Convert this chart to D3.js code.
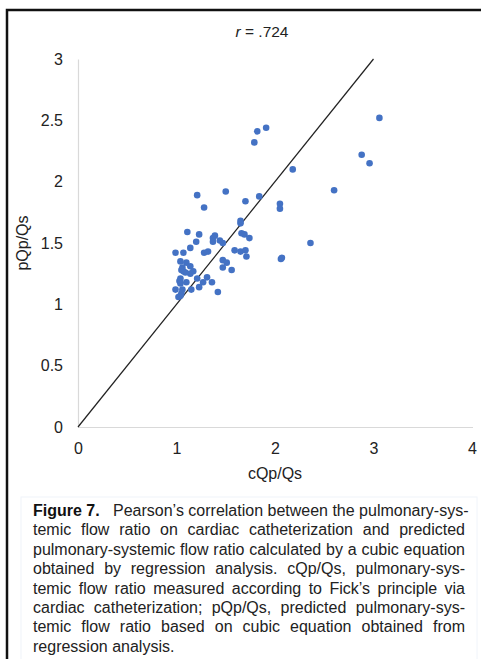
<!DOCTYPE html>
<html>
<head>
<meta charset="utf-8">
<script src="https://cdn.jsdelivr.net/npm/d3@7"></script>
<style>
  html, body { margin: 0; padding: 0; background: #fff; }
  body { width: 481px; height: 659px; position: relative; overflow: hidden; }
  svg { position: absolute; left: 0; top: 0; }
  .caption {
    position: absolute; left: 33px; top: 501px; width: 432px;
    font-family: "Liberation Sans", Arial, sans-serif; font-size: 16px; line-height: 19.4px;
    color: #222;
  }
  .caption div { text-align: justify; text-align-last: justify; white-space: nowrap; }
  .caption div.last { text-align-last: left; }
  .caption b { font-weight: bold; color: #111; }
</style>
</head>
<body>
<svg id="chart" width="481" height="659"></svg>
<div class="caption" id="caption"></div>
<script>
// cQp/Qs (catheterization) and pQp/Qs (predicted) for each patient
const cQp = [3.06, 1.91, 1.82, 1.79, 2.88, 2.96, 2.18, 2.60, 1.50, 1.21,
             1.84, 1.70, 1.28, 2.05, 2.05, 1.65, 1.65, 1.11, 1.23, 1.39,
             1.37, 1.37, 1.44, 1.47, 1.20, 1.66, 1.69, 1.74, 2.36, 1.14,
             0.99, 1.07, 1.28, 1.32, 1.59, 1.65, 1.70, 1.71, 2.06, 2.07,
             1.04, 1.10, 1.06, 1.05, 1.07, 1.14, 1.47, 1.51, 1.47, 1.56,
             1.17, 1.14, 1.09, 1.04, 1.03, 1.10, 1.04, 1.21, 1.31, 1.27,
             1.36, 1.23, 0.99, 1.06, 1.15, 1.05, 1.04, 1.42, 1.02];
const pQp = [2.52, 2.44, 2.41, 2.32, 2.22, 2.15, 2.10, 1.93, 1.92, 1.89,
             1.88, 1.84, 1.79, 1.82, 1.78, 1.66, 1.68, 1.59, 1.57, 1.56,
             1.54, 1.51, 1.52, 1.50, 1.51, 1.58, 1.57, 1.54, 1.50, 1.46,
             1.42, 1.42, 1.42, 1.43, 1.44, 1.43, 1.44, 1.39, 1.37, 1.38,
             1.35, 1.34, 1.30, 1.28, 1.27, 1.31, 1.36, 1.34, 1.30, 1.28,
             1.27, 1.25, 1.26, 1.21, 1.19, 1.18, 1.17, 1.21, 1.22, 1.18,
             1.18, 1.14, 1.12, 1.12, 1.12, 1.09, 1.07, 1.10, 1.06];

const xTickLabels = ["0", "1", "2", "3", "4"];
const yTickLabels = ["0", "0.5", "1", "1.5", "2", "2.5", "3"];
const identityLine = [0, 3];   // line of identity, y = x
const titleR = ".724";

const captionLines = [
  "<b>Figure 7.</b>&nbsp;&nbsp; Pearson’s correlation between the pulmonary-sys-",
  "temic flow ratio on cardiac catheterization and predicted",
  "pulmonary-systemic flow ratio calculated by a cubic equation",
  "obtained by regression analysis. cQp/Qs, pulmonary-sys-",
  "temic flow ratio measured according to Fick’s principle via",
  "cardiac catheterization; pQp/Qs, predicted pulmonary-sys-",
  "temic flow ratio based on cubic equation obtained from",
  "regression analysis."
];

const svg = d3.select("#chart");
const font = "'Liberation Sans', Arial, sans-serif";

// outer frame
svg.append("rect")
  .attr("x", 7).attr("y", 10).attr("width", 520).attr("height", 700)
  .attr("fill", "none").attr("stroke", "#111").attr("stroke-width", 2.5);

// faint caption box
svg.append("rect")
  .attr("x", 21).attr("y", 497).attr("width", 456).attr("height", 200)
  .attr("fill", "none").attr("stroke", "#f0f4fa").attr("stroke-width", 1);

const x = d3.scaleLinear().domain([0, 4]).range([78, 472]);
const y = d3.scaleLinear().domain([0, 3]).range([427, 59]);

// axes
const xAxis = d3.axisBottom(x)
  .tickValues(d3.range(xTickLabels.length))
  .tickFormat((d, i) => xTickLabels[i])
  .tickSize(0).tickPadding(16);
const yAxis = d3.axisLeft(y)
  .tickValues(yTickLabels.map(Number))
  .tickFormat((d, i) => yTickLabels[i])
  .tickSize(0).tickPadding(15);

const gx = svg.append("g").attr("transform", `translate(0,${y(0)})`).call(xAxis);
const gy = svg.append("g").attr("transform", `translate(${x(0)},0)`).call(yAxis);
[gx, gy].forEach(g => {
  g.select(".domain").attr("stroke", "#d9d9d9").attr("stroke-width", 1.2);
  g.selectAll("text").attr("font-family", font).attr("font-size", 16).attr("fill", "#222");
});
gx.select(".domain").attr("d", `M${x(0)},0.5H${x(4) + 1}`);

// identity line
svg.append("line")
  .attr("x1", x(identityLine[0])).attr("y1", y(identityLine[0]))
  .attr("x2", x(identityLine[1])).attr("y2", y(identityLine[1]))
  .attr("stroke", "#222").attr("stroke-width", 1.2);

// points
svg.append("g").selectAll("circle")
  .data(cQp.map((v, i) => [v, pQp[i]]))
  .join("circle")
  .attr("cx", d => x(d[0]))
  .attr("cy", d => y(d[1]))
  .attr("r", 3.3)
  .attr("fill", "#4472c4");

// title
const t = svg.append("text")
  .attr("x", 262).attr("y", 37)
  .attr("text-anchor", "middle")
  .attr("font-family", font).attr("font-size", 15.5).attr("fill", "#222");
t.append("tspan").attr("font-style", "italic").text("r");
t.append("tspan").text(" = " + titleR);

// axis titles
svg.append("text")
  .attr("x", 275).attr("y", 479)
  .attr("text-anchor", "middle")
  .attr("font-family", font).attr("font-size", 16).attr("fill", "#222")
  .text("cQp/Qs");
svg.append("text")
  .attr("transform", "translate(28,243) rotate(-90)")
  .attr("text-anchor", "middle")
  .attr("font-family", font).attr("font-size", 16).attr("fill", "#222")
  .text("pQp/Qs");

// caption
d3.select("#caption").selectAll("div")
  .data(captionLines)
  .join("div")
  .attr("class", (d, i) => i === captionLines.length - 1 ? "last" : null)
  .html(d => d);
</script>
</body>
</html>
